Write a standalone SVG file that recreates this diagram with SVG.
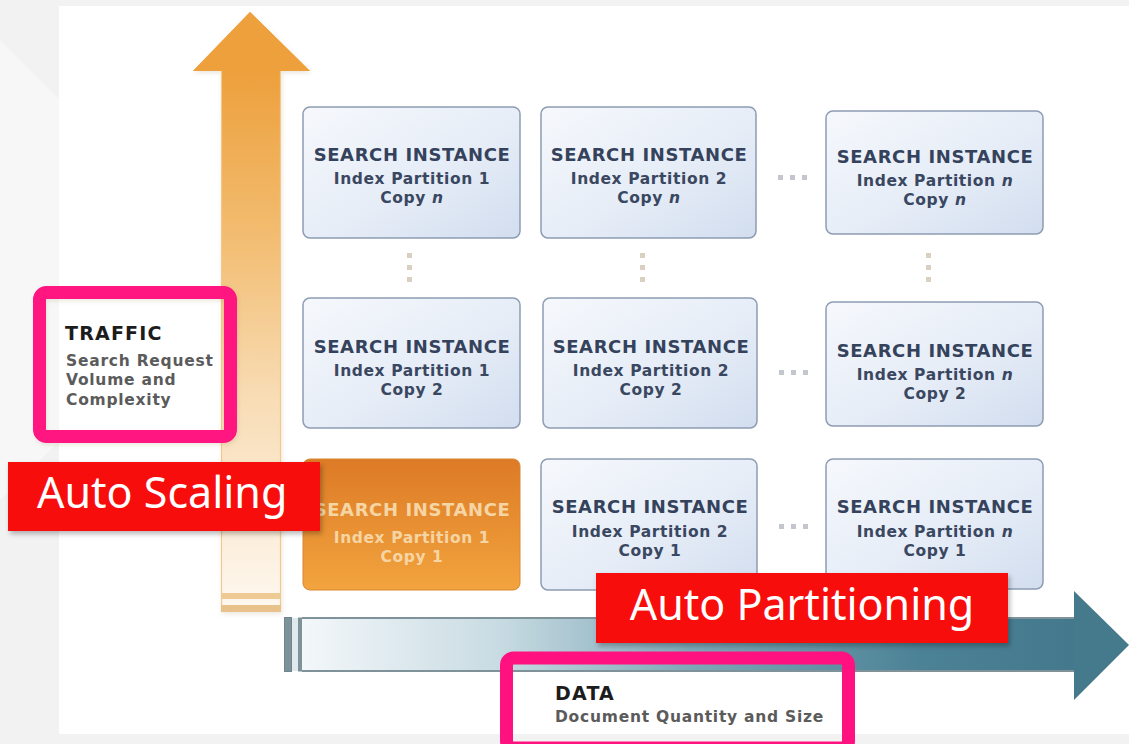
<svg xmlns="http://www.w3.org/2000/svg" width="1129" height="744" viewBox="0 0 1129 744">
  <defs>
    <linearGradient id="boxFill" x1="0" y1="0" x2="1" y2="1">
      <stop offset="0" stop-color="#f6f8fc"/>
      <stop offset="0.55" stop-color="#e6edf7"/>
      <stop offset="1" stop-color="#d2ddef"/>
    </linearGradient>
    <linearGradient id="hotFill" x1="0" y1="0" x2="0" y2="1">
      <stop offset="0" stop-color="#dd7a26"/>
      <stop offset="1" stop-color="#f2a43e"/>
    </linearGradient>
    <linearGradient id="upShaft" x1="0" y1="71" x2="0" y2="612" gradientUnits="userSpaceOnUse">
      <stop offset="0" stop-color="#eda03c"/>
      <stop offset="0.3" stop-color="#f2bc70"/>
      <stop offset="0.6" stop-color="#f8dcb4"/>
      <stop offset="1" stop-color="#fef8f0"/>
    </linearGradient>
    <linearGradient id="rightShaft" x1="302" y1="0" x2="1075" y2="0" gradientUnits="userSpaceOnUse">
      <stop offset="0" stop-color="#f3f7fa"/>
      <stop offset="0.25" stop-color="#c9dce3"/>
      <stop offset="0.5" stop-color="#7ea8b7"/>
      <stop offset="0.8" stop-color="#4c8296"/>
      <stop offset="1" stop-color="#44798d"/>
    </linearGradient>
    <filter id="soft" x="-10%" y="-10%" width="130%" height="140%">
      <feDropShadow dx="2" dy="3" stdDeviation="2.5" flood-color="#000" flood-opacity="0.28"/>
    </filter>
    <filter id="faint" x="-10%" y="-10%" width="130%" height="130%">
      <feDropShadow dx="1" dy="2" stdDeviation="2" flood-color="#7a5a20" flood-opacity="0.15"/>
    </filter>
    <style>
      .box { fill: url(#boxFill); stroke: #8d9cb3; stroke-width: 1.5; }
      .hot { fill: url(#hotFill); stroke: #d9862e; stroke-width: 1; }
      .t1 { font-family: "DejaVu Sans", Verdana, sans-serif; font-weight: bold; font-size: 18px; letter-spacing: 0.6px; fill: #35425c; text-anchor: middle; }
      .t2 { font-family: "DejaVu Sans", Verdana, sans-serif; font-weight: bold; font-size: 15.5px; letter-spacing: 0.6px; fill: #3a4761; text-anchor: middle; }
      .hot-text { fill: #f6d5a4; }
      .dot { fill: #c3c6cc; }
      .vdot { fill: #d9d0c2; }
      .frame { fill: none; stroke: #ff1280; stroke-width: 13; }
      .head { font-family: "DejaVu Sans", Verdana, sans-serif; font-weight: bold; font-size: 19px; letter-spacing: 1.2px; fill: #1c1c1c; }
      .sub { font-family: "DejaVu Sans", Verdana, sans-serif; font-weight: bold; font-size: 15.5px; letter-spacing: 0.75px; fill: #5b5b5b; }
      .tag { fill: #f80a0a; }
      .tag-text { font-family: "Noto Sans", "Open Sans", sans-serif; font-size: 43px; fill: #ffffff; }
    </style>
  </defs>

  <!-- page -->
  <rect x="0" y="0" width="1129" height="744" fill="#f2f2f2"/>
  <polygon points="0,40 60,100 60,440 0,500" fill="#f7f7f7"/>
  <rect x="59" y="6" width="1070" height="728" fill="#ffffff"/>

  <!-- axes -->
  <g id="connectors">
    <!-- vertical traffic arrow -->
    <g id="traffic-axis" filter="url(#faint)">
      <polygon points="250,12 310,71 281,71 281,612 221,612 221,71 193,71" fill="url(#upShaft)"/>
      <polygon points="250,12 310,71 193,71" fill="#eea03c"/>
      <line x1="221.5" y1="71" x2="221.5" y2="612" stroke="#f1c98e" stroke-width="1.2"/>
      <line x1="280.5" y1="71" x2="280.5" y2="612" stroke="#f1c98e" stroke-width="1.2"/>
      <rect x="221" y="593" width="60" height="6" fill="#eecb95"/>
      <rect x="221" y="605" width="60" height="7" fill="#e9c18a"/>
    </g>
    <!-- horizontal data arrow -->
    <g id="data-axis">
      <rect x="302" y="617" width="775" height="55" fill="url(#rightShaft)"/>
      <line x1="302" y1="618" x2="1076" y2="618" stroke="#7f929a" stroke-width="2"/>
      <line x1="302" y1="671" x2="1076" y2="671" stroke="#7f929a" stroke-width="2"/>
      <polygon points="1074,591 1129,645 1074,700" fill="#45798c"/>
      <rect x="284.5" y="617.5" width="7" height="54" fill="#7d9299" stroke="#6f858d" stroke-width="1"/>
      <rect x="292" y="618" width="6" height="53" fill="#dfe9ee"/>
      <rect x="298" y="617.5" width="4" height="54" fill="#7d9299"/>
    </g>
    <!-- continuation dots -->
    <g id="dots">
      <rect class="vdot" x="407" y="253" width="5" height="5"/>
      <rect class="vdot" x="407" y="265" width="5" height="5"/>
      <rect class="vdot" x="407" y="277" width="5" height="5"/>
      <rect class="vdot" x="640" y="253" width="5" height="5"/>
      <rect class="vdot" x="640" y="265" width="5" height="5"/>
      <rect class="vdot" x="640" y="277" width="5" height="5"/>
      <rect class="vdot" x="926" y="253" width="5" height="5"/>
      <rect class="vdot" x="926" y="265" width="5" height="5"/>
      <rect class="vdot" x="926" y="277" width="5" height="5"/>
      <rect class="dot" x="778" y="175" width="5" height="5"/>
      <rect class="dot" x="790" y="175" width="5" height="5"/>
      <rect class="dot" x="802" y="175" width="5" height="5"/>
      <rect class="dot" x="779" y="370" width="5" height="5"/>
      <rect class="dot" x="791" y="370" width="5" height="5"/>
      <rect class="dot" x="803" y="370" width="5" height="5"/>
      <rect class="dot" x="779" y="524" width="5" height="5"/>
      <rect class="dot" x="791" y="524" width="5" height="5"/>
      <rect class="dot" x="803" y="524" width="5" height="5"/>
    </g>
  </g>

  <!-- row: copy n -->
  <g id="p1-copy-n">
    <rect class="box" x="303" y="107" width="217" height="131" rx="7"/>
    <text class="t1" x="412" y="161">SEARCH INSTANCE</text>
    <text class="t2" x="412" y="184">Index Partition 1</text>
    <text class="t2" x="412" y="203">Copy <tspan font-style="italic">n</tspan></text>
  </g>
  <g id="p2-copy-n">
    <rect class="box" x="541" y="107" width="215" height="131" rx="7"/>
    <text class="t1" x="649" y="161">SEARCH INSTANCE</text>
    <text class="t2" x="649" y="184">Index Partition 2</text>
    <text class="t2" x="649" y="203">Copy <tspan font-style="italic">n</tspan></text>
  </g>
  <g id="pn-copy-n">
    <rect class="box" x="826" y="111" width="217" height="123" rx="7"/>
    <text class="t1" x="935" y="163">SEARCH INSTANCE</text>
    <text class="t2" x="935" y="186">Index Partition <tspan font-style="italic">n</tspan></text>
    <text class="t2" x="935" y="205">Copy <tspan font-style="italic">n</tspan></text>
  </g>

  <!-- row: copy 2 -->
  <g id="p1-copy-2">
    <rect class="box" x="303" y="298" width="217" height="130" rx="7"/>
    <text class="t1" x="412" y="353">SEARCH INSTANCE</text>
    <text class="t2" x="412" y="376">Index Partition 1</text>
    <text class="t2" x="412" y="395">Copy 2</text>
  </g>
  <g id="p2-copy-2">
    <rect class="box" x="543" y="298" width="214" height="130" rx="7"/>
    <text class="t1" x="651" y="353">SEARCH INSTANCE</text>
    <text class="t2" x="651" y="376">Index Partition 2</text>
    <text class="t2" x="651" y="395">Copy 2</text>
  </g>
  <g id="pn-copy-2">
    <rect class="box" x="826" y="302" width="217" height="124" rx="7"/>
    <text class="t1" x="935" y="357">SEARCH INSTANCE</text>
    <text class="t2" x="935" y="380">Index Partition <tspan font-style="italic">n</tspan></text>
    <text class="t2" x="935" y="399">Copy 2</text>
  </g>

  <!-- row: copy 1 -->
  <g id="p1-copy-1">
    <rect class="hot" x="303" y="459" width="217" height="131" rx="7"/>
    <text class="t1 hot-text" x="412" y="516">SEARCH INSTANCE</text>
    <text class="t2 hot-text" x="412" y="543">Index Partition 1</text>
    <text class="t2 hot-text" x="412" y="562">Copy 1</text>
  </g>
  <g id="p2-copy-1">
    <rect class="box" x="541" y="459" width="216" height="131" rx="7"/>
    <text class="t1" x="650" y="513">SEARCH INSTANCE</text>
    <text class="t2" x="650" y="537">Index Partition 2</text>
    <text class="t2" x="650" y="556">Copy 1</text>
  </g>
  <g id="pn-copy-1">
    <rect class="box" x="826" y="459" width="217" height="130" rx="7"/>
    <text class="t1" x="935" y="513">SEARCH INSTANCE</text>
    <text class="t2" x="935" y="537">Index Partition <tspan font-style="italic">n</tspan></text>
    <text class="t2" x="935" y="556">Copy 1</text>
  </g>

  <!-- axis captions -->
  <g id="traffic-label">
    <rect class="frame" x="39.5" y="292.5" width="191" height="144" rx="7" filter="url(#faint)"/>
    <text class="head" x="65" y="340">TRAFFIC</text>
    <text class="sub" x="66" y="366">Search Request</text>
    <text class="sub" x="66" y="385">Volume and</text>
    <text class="sub" x="66" y="405">Complexity</text>
  </g>
  <g id="data-label">
    <rect class="frame" x="506.5" y="658" width="342" height="90" rx="7"/>
    <text class="head" x="555" y="700">DATA</text>
    <text class="sub" x="555" y="722">Document Quantity and Size</text>
  </g>

  <!-- callouts -->
  <g id="auto-scaling">
    <rect class="tag" x="8" y="462" width="312" height="69" filter="url(#soft)"/>
    <text class="tag-text" x="37" y="508">Auto Scaling</text>
  </g>
  <g id="auto-partitioning">
    <rect class="tag" x="596" y="573" width="412" height="70" filter="url(#soft)"/>
    <text class="tag-text" x="802" y="620" text-anchor="middle">Auto Partitioning</text>
  </g>
</svg>
